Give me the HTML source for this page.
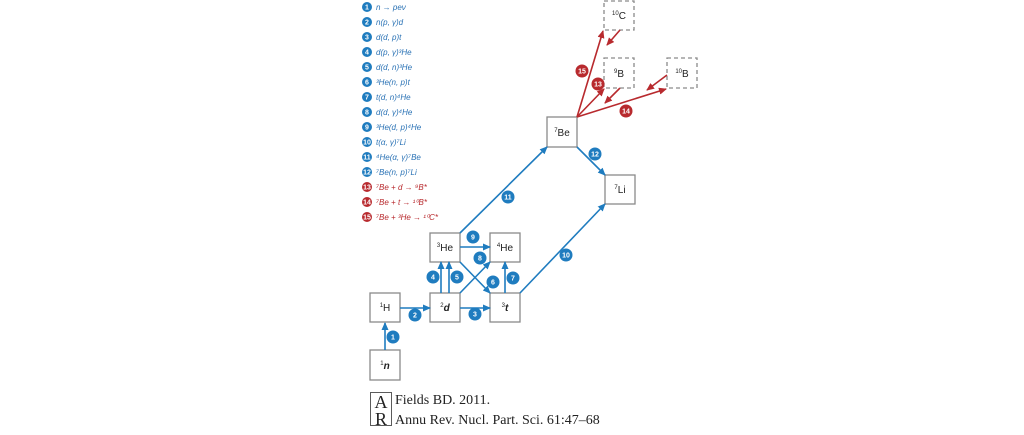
<!DOCTYPE html>
<html><head><meta charset="utf-8"><style>
html,body{margin:0;padding:0;background:#fff;width:1024px;height:435px;overflow:hidden}
svg{display:block}
.bx{fill:#fff;stroke:#8a8a8a;stroke-width:1.3}
.dx{fill:#fff;stroke:#8a8a8a;stroke-width:1.3;stroke-dasharray:4 3}
.lb{font-family:"Liberation Sans",sans-serif;font-size:10px;fill:#222;text-anchor:middle}
.lb tspan.s{font-size:6px}
.b{stroke:#1f7cbf;stroke-width:1.6;fill:none}
.r{stroke:#b82a2e;stroke-width:1.6;fill:none}
.bt{font-family:"Liberation Sans",sans-serif;font-size:7px;font-weight:bold;fill:#fff;text-anchor:middle}
.lg{font-family:"Liberation Sans",sans-serif;font-size:8px;font-style:italic}
</style></head><body>
<svg width="1024" height="435" viewBox="0 0 1024 435" xmlns="http://www.w3.org/2000/svg">
<defs>
<marker id="ab" markerWidth="8" markerHeight="8" refX="7" refY="4" orient="auto" markerUnits="userSpaceOnUse"><path d="M0,0.5 L8,4 L0,7.5z" fill="#1f7cbf"/></marker>
<marker id="ar" markerWidth="8" markerHeight="8" refX="7" refY="4" orient="auto" markerUnits="userSpaceOnUse"><path d="M0,0.5 L8,4 L0,7.5z" fill="#b82a2e"/></marker>
</defs>
<rect class="bx" x="370" y="350" width="30" height="30"/>
<rect class="bx" x="370" y="293" width="30" height="29"/>
<rect class="bx" x="430" y="293" width="30" height="29"/>
<rect class="bx" x="490" y="293" width="30" height="29"/>
<rect class="bx" x="430" y="233" width="30" height="29"/>
<rect class="bx" x="490" y="233" width="30" height="29"/>
<rect class="bx" x="547" y="117" width="30" height="30"/>
<rect class="bx" x="605" y="175" width="30" height="29"/>
<rect class="dx" x="604" y="1" width="30" height="29"/>
<rect class="dx" x="604" y="58" width="30" height="30"/>
<rect class="dx" x="667" y="58" width="30" height="30"/>
<text class="lb" x="385" y="369"><tspan class="s" dy="-4">1</tspan><tspan dy="4" font-style="italic" font-weight="bold">n</tspan></text>
<text class="lb" x="385" y="311"><tspan class="s" dy="-4">1</tspan><tspan dy="4">H</tspan></text>
<text class="lb" x="445" y="311"><tspan class="s" dy="-4">2</tspan><tspan dy="4" font-style="italic" font-weight="bold">d</tspan></text>
<text class="lb" x="505" y="311"><tspan class="s" dy="-4">3</tspan><tspan dy="4" font-style="italic" font-weight="bold">t</tspan></text>
<text class="lb" x="445" y="251"><tspan class="s" dy="-4">3</tspan><tspan dy="4">He</tspan></text>
<text class="lb" x="505" y="251"><tspan class="s" dy="-4">4</tspan><tspan dy="4">He</tspan></text>
<text class="lb" x="562" y="136"><tspan class="s" dy="-4">7</tspan><tspan dy="4">Be</tspan></text>
<text class="lb" x="620" y="193"><tspan class="s" dy="-4">7</tspan><tspan dy="4">Li</tspan></text>
<text class="lb" x="619" y="19"><tspan class="s" dy="-4">10</tspan><tspan dy="4">C</tspan></text>
<text class="lb" x="619" y="77"><tspan class="s" dy="-4">9</tspan><tspan dy="4">B</tspan></text>
<text class="lb" x="682" y="77"><tspan class="s" dy="-4">10</tspan><tspan dy="4">B</tspan></text>
<g marker-end="url(#ab)">
<line class="b" x1="385" y1="350" x2="385" y2="323"/>
<line class="b" x1="400" y1="308" x2="430" y2="308"/>
<line class="b" x1="460" y1="308" x2="490" y2="308"/>
<line class="b" x1="441" y1="293" x2="441" y2="262"/>
<line class="b" x1="449" y1="293" x2="449" y2="262"/>
<line class="b" x1="460" y1="293" x2="490" y2="262"/>
<line class="b" x1="460" y1="262" x2="490" y2="293"/>
<line class="b" x1="505" y1="293" x2="505" y2="262"/>
<line class="b" x1="460" y1="247" x2="490" y2="247"/>
<line class="b" x1="460" y1="233" x2="547" y2="147"/>
<line class="b" x1="520" y1="293" x2="605" y2="204"/>
<line class="b" x1="577" y1="147" x2="605" y2="175"/>
</g>
<g marker-end="url(#ar)">
<line class="r" x1="577" y1="117" x2="603" y2="31"/>
<line class="r" x1="577" y1="117" x2="604" y2="89"/>
<line class="r" x1="577" y1="117" x2="666" y2="89"/>
<line class="r" x1="620" y1="30" x2="607" y2="45"/>
<line class="r" x1="620" y1="88" x2="605" y2="103"/>
<line class="r" x1="667" y1="75" x2="647" y2="90"/>
</g>
<g>
<circle cx="393" cy="337" r="6.5" fill="#1f7cbf"/><text class="bt" x="393" y="339.5">1</text>
<circle cx="415" cy="315" r="6.5" fill="#1f7cbf"/><text class="bt" x="415" y="317.5">2</text>
<circle cx="475" cy="314" r="6.5" fill="#1f7cbf"/><text class="bt" x="475" y="316.5">3</text>
<circle cx="433" cy="277" r="6.5" fill="#1f7cbf"/><text class="bt" x="433" y="279.5">4</text>
<circle cx="457" cy="277" r="6.5" fill="#1f7cbf"/><text class="bt" x="457" y="279.5">5</text>
<circle cx="493" cy="282" r="6.5" fill="#1f7cbf"/><text class="bt" x="493" y="284.5">6</text>
<circle cx="513" cy="278" r="6.5" fill="#1f7cbf"/><text class="bt" x="513" y="280.5">7</text>
<circle cx="480" cy="258" r="6.5" fill="#1f7cbf"/><text class="bt" x="480" y="260.5">8</text>
<circle cx="473" cy="237" r="6.5" fill="#1f7cbf"/><text class="bt" x="473" y="239.5">9</text>
<circle cx="566" cy="255" r="6.5" fill="#1f7cbf"/><text class="bt" x="566" y="257.5">10</text>
<circle cx="508" cy="197" r="6.5" fill="#1f7cbf"/><text class="bt" x="508" y="199.5">11</text>
<circle cx="595" cy="154" r="6.5" fill="#1f7cbf"/><text class="bt" x="595" y="156.5">12</text>
<circle cx="598" cy="84" r="6.5" fill="#b82a2e"/><text class="bt" x="598" y="86.5">13</text>
<circle cx="626" cy="111" r="6.5" fill="#b82a2e"/><text class="bt" x="626" y="113.5">14</text>
<circle cx="582" cy="71" r="6.5" fill="#b82a2e"/><text class="bt" x="582" y="73.5">15</text>
</g>
<g>
<g fill="#1f7cbf">
<circle cx="367" cy="7" r="5"/><circle cx="367" cy="22" r="5"/><circle cx="367" cy="37" r="5"/><circle cx="367" cy="52" r="5"/><circle cx="367" cy="67" r="5"/><circle cx="367" cy="82" r="5"/><circle cx="367" cy="97" r="5"/><circle cx="367" cy="112" r="5"/><circle cx="367" cy="127" r="5"/><circle cx="367" cy="142" r="5"/><circle cx="367" cy="157" r="5"/><circle cx="367" cy="172" r="5"/>
</g>
<g fill="#b82a2e"><circle cx="367" cy="187" r="5"/><circle cx="367" cy="202" r="5"/><circle cx="367" cy="217" r="5"/></g>
<g class="bt">
<text x="367" y="9.5">1</text><text x="367" y="24.5">2</text><text x="367" y="39.5">3</text><text x="367" y="54.5">4</text><text x="367" y="69.5">5</text><text x="367" y="84.5">6</text><text x="367" y="99.5">7</text><text x="367" y="114.5">8</text><text x="367" y="129.5">9</text><text x="367" y="144.5">10</text><text x="367" y="159.5">11</text><text x="367" y="174.5">12</text><text x="367" y="189.5">13</text><text x="367" y="204.5">14</text><text x="367" y="219.5">15</text>
</g>
<g class="lg" fill="#2a72b5">
<text x="376" y="10">n → peν</text>
<text x="376" y="25">n(p, γ)d</text>
<text x="376" y="40">d(d, p)t</text>
<text x="376" y="55">d(p, γ)³He</text>
<text x="376" y="70">d(d, n)³He</text>
<text x="376" y="85">³He(n, p)t</text>
<text x="376" y="100">t(d, n)⁴He</text>
<text x="376" y="115">d(d, γ)⁴He</text>
<text x="376" y="130">³He(d, p)⁴He</text>
<text x="376" y="145">t(α, γ)⁷Li</text>
<text x="376" y="160">⁴He(α, γ)⁷Be</text>
<text x="376" y="175">⁷Be(n, p)⁷Li</text>
</g>
<g class="lg" fill="#b82a2e">
<text x="376" y="190">⁷Be + d → ⁹B*</text>
<text x="376" y="205">⁷Be + t → ¹⁰B*</text>
<text x="376" y="220">⁷Be + ³He → ¹⁰C*</text>
</g>
</g>
<rect x="370.5" y="392.5" width="21" height="33" fill="none" stroke="#333" stroke-width="0.8"/>
<text x="381" y="408" font-family="Liberation Serif,serif" font-size="18" text-anchor="middle" fill="#222">A</text>
<text x="381" y="425" font-family="Liberation Serif,serif" font-size="18" text-anchor="middle" fill="#222">R</text>
<text x="395" y="404" font-family="Liberation Serif,serif" font-size="14" fill="#222">Fields BD. 2011.</text>
<text x="395" y="424" font-family="Liberation Serif,serif" font-size="14" fill="#222">Annu Rev. Nucl. Part. Sci. 61:47–68</text>
</svg>
</body></html>
